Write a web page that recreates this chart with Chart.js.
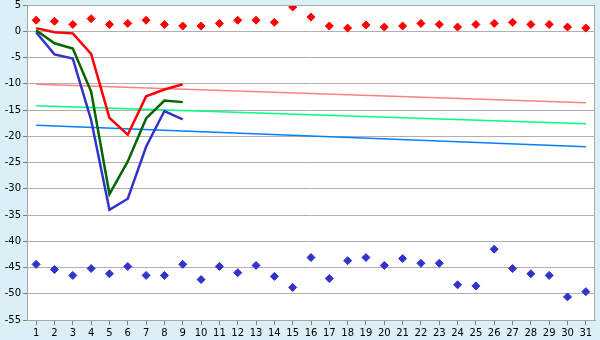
<!DOCTYPE html>
<html>
<head>
<meta charset="utf-8">
<script src="https://cdn.jsdelivr.net/npm/chart.js@4/dist/chart.umd.min.js"></script>
<style>
html,body{margin:0;padding:0;background:#DAF0F6;}
#wrap{width:600px;height:340px;}
</style>
</head>
<body>
<div id="wrap"><canvas id="c" width="600" height="340"></canvas></div>
<script>
const days = ['1','2','3','4','5','6','7','8','9','10','11','12','13','14','15','16','17','18','19','20','21','22','23','24','25','26','27','28','29','30','31'];
const yTicks = [5,0,-5,-10,-15,-20,-25,-30,-35,-40,-45,-50,-55];
const topPoints = [2.1,1.9,1.3,2.4,1.3,1.5,2.1,1.3,1.0,1.0,1.5,2.1,2.1,1.7,4.6,2.7,1.0,0.6,1.2,0.8,1.0,1.5,1.3,0.8,1.3,1.5,1.7,1.3,1.3,0.8,0.6];
const bottomPoints = [-44.4,-45.4,-46.5,-45.2,-46.2,-44.8,-46.5,-46.5,-44.4,-47.3,-44.8,-46.0,-44.6,-46.7,-48.8,-43.1,-47.1,-43.7,-43.1,-44.6,-43.3,-44.2,-44.2,-48.3,-48.5,-41.5,-45.2,-46.2,-46.5,-50.6,-49.6];
const redLine = [0.6,-0.2,-0.4,-4.3,-16.5,-19.7,-12.4,-11.1,-10.1];
const greenLine = [0.2,-2.3,-3.3,-11.5,-31.0,-24.8,-16.6,-13.2,-13.5];
const blueLine = [-0.2,-4.4,-5.2,-16.9,-34.0,-31.9,-22.0,-15.2,-16.8];
const redTrend = [-10.1,null,null,null,null,null,null,null,null,null,null,null,null,null,null,null,null,null,null,null,null,null,null,null,null,null,null,null,null,null,-13.6];
const greenTrend = [-14.2,null,null,null,null,null,null,null,null,null,null,null,null,null,null,null,null,null,null,null,null,null,null,null,null,null,null,null,null,null,-17.6];
const blueTrend = [-17.9,null,null,null,null,null,null,null,null,null,null,null,null,null,null,null,null,null,null,null,null,null,null,null,null,null,null,null,null,null,-22.0];

const bgPlugin = {
  id:'bg',
  beforeDraw(chart){
    const {ctx, chartArea:a} = chart;
    ctx.save();
    ctx.fillStyle = '#DAF0F6';
    ctx.fillRect(0,0,chart.width,chart.height);
    ctx.fillStyle = '#FFFFFF';
    ctx.fillRect(a.left,a.top,a.right-a.left,a.bottom-a.top);
    ctx.restore();
  },
  afterDraw(chart){
    const {ctx, chartArea:a} = chart;
    ctx.save();
    ctx.strokeStyle = '#A8A8A8';
    ctx.lineWidth = 1;
    ctx.strokeRect(a.left+0.5,a.top+0.5,a.right-a.left-1,a.bottom-a.top);
    ctx.restore();
  }
};

const lineDs = (data,color,w,order)=>({type:'line',data,borderColor:color,backgroundColor:color,borderWidth:w,pointRadius:0,tension:0,fill:false,spanGaps:true,order});
const ptDs = (data,color)=>({type:'line',data,showLine:false,pointStyle:'rectRot',pointRadius:4,pointBackgroundColor:color,pointBorderColor:color,borderColor:color,backgroundColor:color,order:0});

new Chart(document.getElementById('c'),{
  type:'line',
  data:{
    labels:days,
    datasets:[
      lineDs(redTrend,'#FF8080',1.5,5),
      lineDs(greenTrend,'#00FF80',1.5,5),
      lineDs(blueTrend,'#0080FF',1.5,5),
      lineDs(redLine,'#FF0000',2.5,2),
      lineDs(greenLine,'#006600',2.5,2),
      lineDs(blueLine,'#3333CC',2.5,2),
      ptDs(topPoints,'#FF0000'),
      ptDs(bottomPoints,'#3333CC')
    ]
  },
  options:{
    responsive:false,
    animation:false,
    devicePixelRatio:1,
    layout:{padding:{top:0,right:5,left:0,bottom:0}},
    plugins:{legend:{display:false},tooltip:{enabled:false}},
    scales:{
      x:{
        offset:true,
        grid:{display:true,drawOnChartArea:false,drawTicks:true,tickLength:5,offset:false,color:'#808080'},
        border:{color:'#A8A8A8'},
        ticks:{color:'#000',font:{family:'DejaVu Sans',size:10},padding:2,maxRotation:0,autoSkip:false},
        afterFit(s){s.height=20;}
      },
      y:{
        min:-55,max:5,
        afterBuildTicks(s){s.ticks = yTicks.map(v=>({value:v}));},
        grid:{color:'#B0B0B0',tickLength:4,tickColor:'#808080'},
        border:{color:'#A8A8A8'},
        ticks:{color:'#000',font:{family:'DejaVu Sans',size:10},padding:2},
        afterFit(s){s.width=27;s.paddingTop=5;}
      }
    }
  },
  plugins:[bgPlugin]
});
</script>
</body>
</html>
